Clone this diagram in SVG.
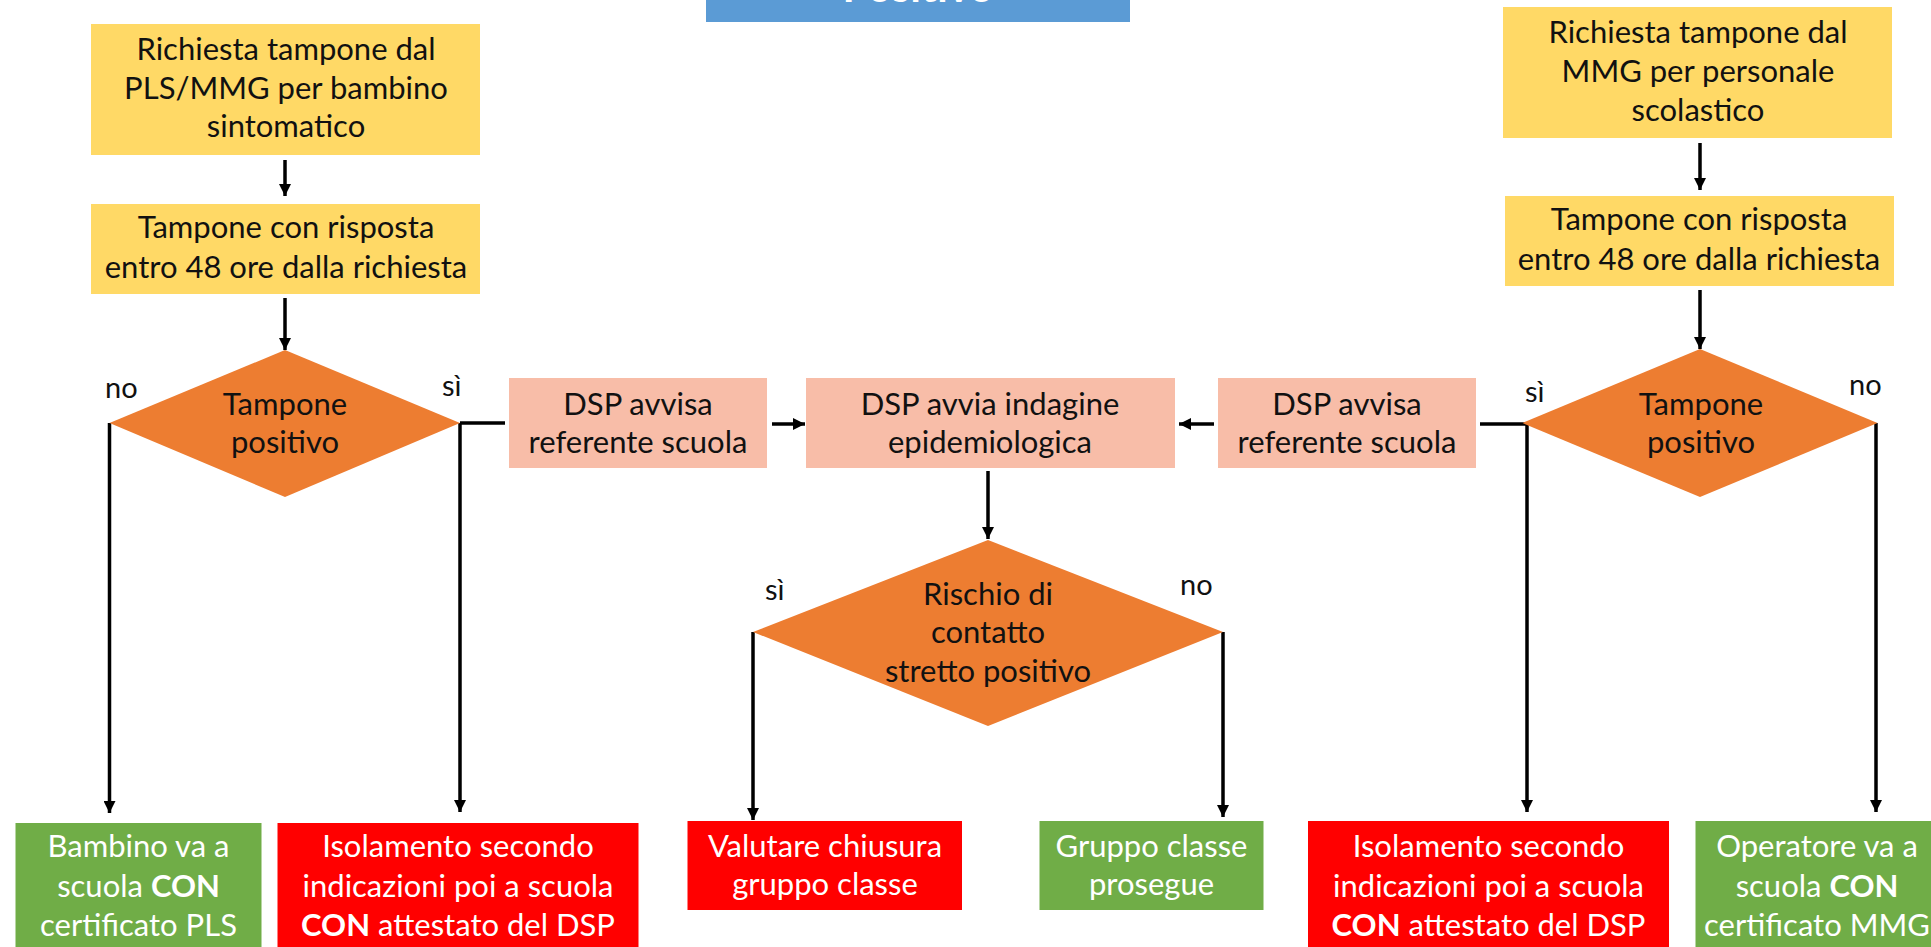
<svg xmlns="http://www.w3.org/2000/svg" width="1931" height="947" viewBox="0 0 1931 947">
  <style>
    .t { font-family: Lato, "Liberation Sans", sans-serif; font-size: 31px; text-anchor: middle; fill: #111; }
    .w { fill: #ffffff; }
    .b { font-weight: bold; }
    .lbl { font-family: Lato, "Liberation Sans", sans-serif; font-size: 29px; fill: #111; }
    .yel { fill: #FFD966; }
    .pink { fill: #F8BDA8; }
    .orng { fill: #ED7D31; }
    .red { fill: #FF0000; }
    .grn { fill: #70AD47; }
    .blue { fill: #5B9BD5; }
    .ln { stroke: #000; stroke-width: 3.5; fill: none; }
    .ar { stroke: #000; stroke-width: 3.5; fill: none; marker-end: url(#ah); }
  </style>
  <defs>
    <marker id="ah" markerUnits="userSpaceOnUse" markerWidth="12" markerHeight="12" viewBox="0 0 12 12" refX="12" refY="6" orient="auto">
      <path d="M0,0 L12,6 L0,12 z" fill="#000"/>
    </marker>
  </defs>
  <rect width="1931" height="947" fill="#ffffff"/>

  <g id="title">
    <rect class="blue" x="706" y="-20" width="424" height="42"/>
    <text class="t w b" x="918" y="1.5" style="font-size:42px">Positivo</text>
  </g>

  <g id="connectors">
    <path class="ar" d="M285,160 V196"/>
    <path class="ar" d="M285,298 V350"/>
    <path class="ar" d="M1700,143 V190"/>
    <path class="ar" d="M1700,290 V349"/>
    <path class="ln" d="M460,423 H505"/>
    <path class="ar" d="M772,424 H805"/>
    <path class="ar" d="M1214,424 H1179"/>
    <path class="ln" d="M1480,424 H1528"/>
    <path class="ar" d="M988,471 V539"/>
    <path class="ar" d="M109.5,423 V813"/>
    <path class="ar" d="M460,423 V812"/>
    <path class="ar" d="M1527,424 V812"/>
    <path class="ar" d="M1876,423 V812"/>
    <path class="ar" d="M753,632 V820"/>
    <path class="ar" d="M1223,632 V817"/>
    <text class="lbl" x="105" y="398">no</text>
    <text class="lbl" x="442" y="396">sì</text>
    <text class="lbl" x="765" y="600">sì</text>
    <text class="lbl" x="1180" y="595">no</text>
    <text class="lbl" x="1525" y="402">sì</text>
    <text class="lbl" x="1849" y="395">no</text>
  </g>

  <g id="req-pls">
    <rect class="yel" x="91" y="24" width="389" height="131"/>
    <text class="t"><tspan x="286" y="60">Richiesta tampone dal</tspan><tspan x="286" y="99">PLS/MMG per bambino</tspan><tspan x="286" y="137">sintomatico</tspan></text>
  </g>
  <g id="tamp-left">
    <rect class="yel" x="91" y="204" width="389" height="90"/>
    <text class="t"><tspan x="286" y="238">Tampone con risposta</tspan><tspan x="286" y="278">entro 48 ore dalla richiesta</tspan></text>
  </g>
  <g id="dec-left">
    <polygon class="orng" points="285,350 460,423 285,497 109.5,423"/>
    <text class="t"><tspan x="285" y="415">Tampone</tspan><tspan x="285" y="453">positivo</tspan></text>
  </g>
  <g id="dsp-avvisa-left">
    <rect class="pink" x="509" y="378" width="258" height="90"/>
    <text class="t"><tspan x="638" y="415">DSP avvisa</tspan><tspan x="638" y="453">referente scuola</tspan></text>
  </g>
  <g id="dsp-indagine">
    <rect class="pink" x="806" y="378" width="369" height="90"/>
    <text class="t"><tspan x="990" y="415">DSP avvia indagine</tspan><tspan x="990" y="453">epidemiologica</tspan></text>
  </g>
  <g id="dsp-avvisa-right">
    <rect class="pink" x="1218" y="378" width="258" height="90"/>
    <text class="t"><tspan x="1347" y="415">DSP avvisa</tspan><tspan x="1347" y="453">referente scuola</tspan></text>
  </g>
  <g id="req-mmg">
    <rect class="yel" x="1503" y="7" width="389" height="131"/>
    <text class="t"><tspan x="1698" y="43">Richiesta tampone dal</tspan><tspan x="1698" y="82">MMG per personale</tspan><tspan x="1698" y="121">scolastico</tspan></text>
  </g>
  <g id="tamp-right">
    <rect class="yel" x="1505" y="196" width="389" height="90"/>
    <text class="t"><tspan x="1699" y="230">Tampone con risposta</tspan><tspan x="1699" y="270">entro 48 ore dalla richiesta</tspan></text>
  </g>
  <g id="dec-right">
    <polygon class="orng" points="1700,349 1877.5,423 1700,497 1522.5,423"/>
    <text class="t"><tspan x="1701" y="415">Tampone</tspan><tspan x="1701" y="453">positivo</tspan></text>
  </g>
  <g id="dec-rischio">
    <polygon class="orng" points="988,540 1223,632 988,726 753,632"/>
    <text class="t"><tspan x="988" y="605">Rischio di</tspan><tspan x="988" y="643">contatto</tspan><tspan x="988" y="682">stretto positivo</tspan></text>
  </g>
  <g id="bambino">
    <rect class="grn" x="15.5" y="823" width="246" height="130"/>
    <text class="t w"><tspan x="138.5" y="857">Bambino va a</tspan><tspan x="138.5" y="897">scuola <tspan class="b">CON</tspan></tspan><tspan x="138.5" y="936">certificato PLS</tspan></text>
  </g>
  <g id="isol-left">
    <rect class="red" x="277.5" y="823" width="361" height="130"/>
    <text class="t w"><tspan x="458" y="857">Isolamento secondo</tspan><tspan x="458" y="897">indicazioni poi a scuola</tspan><tspan x="458" y="936"><tspan class="b">CON</tspan> attestato del DSP</tspan></text>
  </g>
  <g id="valutare">
    <rect class="red" x="687.5" y="821" width="274.5" height="89"/>
    <text class="t w"><tspan x="825" y="857">Valutare chiusura</tspan><tspan x="825" y="895">gruppo classe</tspan></text>
  </g>
  <g id="prosegue">
    <rect class="grn" x="1039.5" y="821" width="224" height="89"/>
    <text class="t w"><tspan x="1151.5" y="857">Gruppo classe</tspan><tspan x="1151.5" y="895">prosegue</tspan></text>
  </g>
  <g id="isol-right">
    <rect class="red" x="1308" y="821" width="361" height="130"/>
    <text class="t w"><tspan x="1488.5" y="857">Isolamento secondo</tspan><tspan x="1488.5" y="897">indicazioni poi a scuola</tspan><tspan x="1488.5" y="936"><tspan class="b">CON</tspan> attestato del DSP</tspan></text>
  </g>
  <g id="operatore">
    <rect class="grn" x="1695.5" y="821" width="250" height="130"/>
    <text class="t w"><tspan x="1817" y="857">Operatore va a</tspan><tspan x="1817" y="897">scuola <tspan class="b">CON</tspan></tspan><tspan x="1817" y="936">certificato MMG</tspan></text>
  </g>
</svg>
